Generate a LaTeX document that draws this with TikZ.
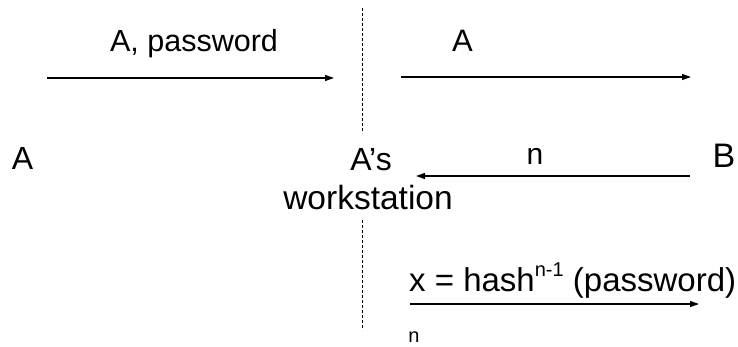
\documentclass[tikz,border=0pt]{standalone}
\usepackage{fontspec}
\setmainfont{Liberation Sans}
\usetikzlibrary{arrows.meta}
\tikzset{
  lbl/.style={inner sep=0pt, font=\fontsize{32}{38}\selectfont},
  small/.style={inner sep=0pt, font=\fontsize{20}{24}\selectfont},
  msg/.style={line width=1.2pt, -{Triangle[length=9pt,width=6pt]}},
  divider/.style={line width=0.9pt, dash pattern=on 3pt off 2pt}
}
\begin{document}
\begin{tikzpicture}[x=1pt,y=-1pt]
  \useasboundingbox (0,0) rectangle (738,346);

  % parties
  \node[lbl] (A) at (22.5,158.5) {A};
  \node[lbl] (As) at (371,160) {A’s};
  \node[lbl, font=\fontsize{33.5}{40}\selectfont] (ws) at (368,198) {workstation};
  \node[lbl, font=\fontsize{34}{40}\selectfont] (B) at (724,156) {B};

  % dashed divider through the workstation
  \coordinate (d1) at (362,8);
  \coordinate (d2) at (362,133);
  \coordinate (d3) at (362,220);
  \coordinate (d4) at (362,330);
  \draw[divider] (d1) -- (d2);
  \draw[divider] (d3) -- (d4);

  % A -> workstation
  \coordinate (m1s) at (47,78);
  \coordinate (m1e) at (334,78);
  \draw[msg] (m1s) -- (m1e);
  \node[lbl, font=\fontsize{30.5}{36}\selectfont] (m1) at (194,44) {A, password};

  % workstation -> B
  \coordinate (m2s) at (401,77);
  \coordinate (m2e) at (691,77);
  \draw[msg] (m2s) -- (m2e);
  \node[lbl, font=\fontsize{31}{36}\selectfont] (m2) at (462.5,41) {A};

  % B -> workstation
  \coordinate (m3s) at (690,176);
  \coordinate (m3e) at (416,176);
  \draw[msg] (m3s) -- (m3e);
  \node[lbl, font=\fontsize{30}{36}\selectfont] (m3) at (535,156) {n};

  % workstation -> B, hash value
  \coordinate (m4s) at (410,304);
  \coordinate (m4e) at (699,304);
  \draw[msg] (m4s) -- (m4e);
  \node[lbl, font=\fontsize{33}{40}\selectfont, anchor=base west] (m4) at (409,291)
    {x = hash\raisebox{0.45em}{\fontsize{20}{24}\selectfont n-1} (password)};
  \node[small] (m4n) at (414,337) {n};
\end{tikzpicture}
\end{document}
